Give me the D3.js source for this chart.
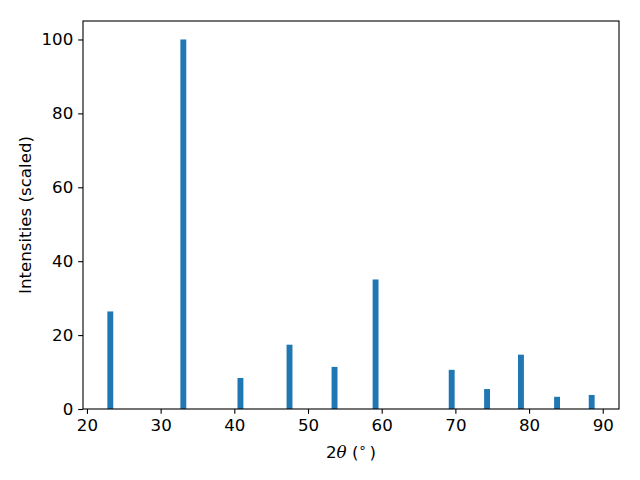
<!DOCTYPE html>
<html><head><meta charset="utf-8">
<script src="https://cdn.jsdelivr.net/npm/d3@7"></script>
<style>
body{margin:0;background:#fff;}
text{font-family:"DejaVu Sans",sans-serif;fill:#000;}
</style></head>
<body><svg id="c" width="640" height="480"></svg>
<script>
const positions = [23.17, 33.08, 40.83, 47.49, 53.6, 59.17, 69.5, 74.3, 78.9, 83.8, 88.5];
const intensities = [26.4, 100, 8.4, 17.4, 11.4, 35.05, 10.6, 5.4, 14.7, 3.3, 3.8];
const xTicks = [20, 30, 40, 50, 60, 70, 80, 90];
const yTicks = [0, 20, 40, 60, 80, 100];
const barWidth = 0.8;

const L = 83, R = 619, T = 21, B = 409;
const svg = d3.select("#c");
svg.append("rect").attr("width",640).attr("height",480).attr("fill","#fff");

const xmin = d3.min(positions) - barWidth/2, xmax = d3.max(positions) + barWidth/2;
const m = (xmax - xmin) * 0.05;
const x = d3.scaleLinear().domain([xmin - m, xmax + m]).range([L, R]);
const y = d3.scaleLinear().domain([0, 105]).range([B, T]);

svg.append("g").selectAll("rect").data(positions).join("rect")
  .attr("x", d => x(d - barWidth/2))
  .attr("width", d => x(d + barWidth/2) - x(d - barWidth/2))
  .attr("y", (d,i) => y(intensities[i]))
  .attr("height", (d,i) => y(0) - y(intensities[i]))
  .attr("fill", "#1f77b4");

const fs = "16.67px";
const xa = svg.append("g").attr("transform",`translate(0,${B})`)
  .call(d3.axisBottom(x).tickValues(xTicks).tickSize(4.86).tickPadding(4.86).tickFormat(d3.format("d")));
const ya = svg.append("g").attr("transform",`translate(${L},0)`)
  .call(d3.axisLeft(y).tickValues(yTicks).tickSize(4.86).tickPadding(4.86).tickFormat(d3.format("d")));
[xa, ya].forEach(a => {
  a.select(".domain").remove();
  a.selectAll("line").attr("stroke","#000").attr("stroke-width",1.1);
  a.selectAll("text").style("font-size", fs).attr("font-family","DejaVu Sans").attr("fill","#000");
});

svg.append("rect").attr("x",L).attr("y",T).attr("width",R-L).attr("height",B-T)
  .attr("fill","none").attr("stroke","#000").attr("stroke-width",1.1);

const xl = svg.append("text").attr("x",(L+R)/2).attr("y",458).attr("text-anchor","middle").style("font-size",fs);
xl.append("tspan").text("2");
xl.append("tspan").attr("font-style","italic").attr("font-family","DejaVu Serif").text("θ");
xl.append("tspan").text(" (");
xl.append("tspan").attr("dy",-6).style("font-size","13px").text("∘");
xl.append("tspan").attr("dy",6).attr("dx",3).text(")");

svg.append("text").attr("transform",`translate(31,${(T+B)/2}) rotate(-90)`)
  .attr("text-anchor","middle").style("font-size",fs).text("Intensities (scaled)");
</script></body></html>
